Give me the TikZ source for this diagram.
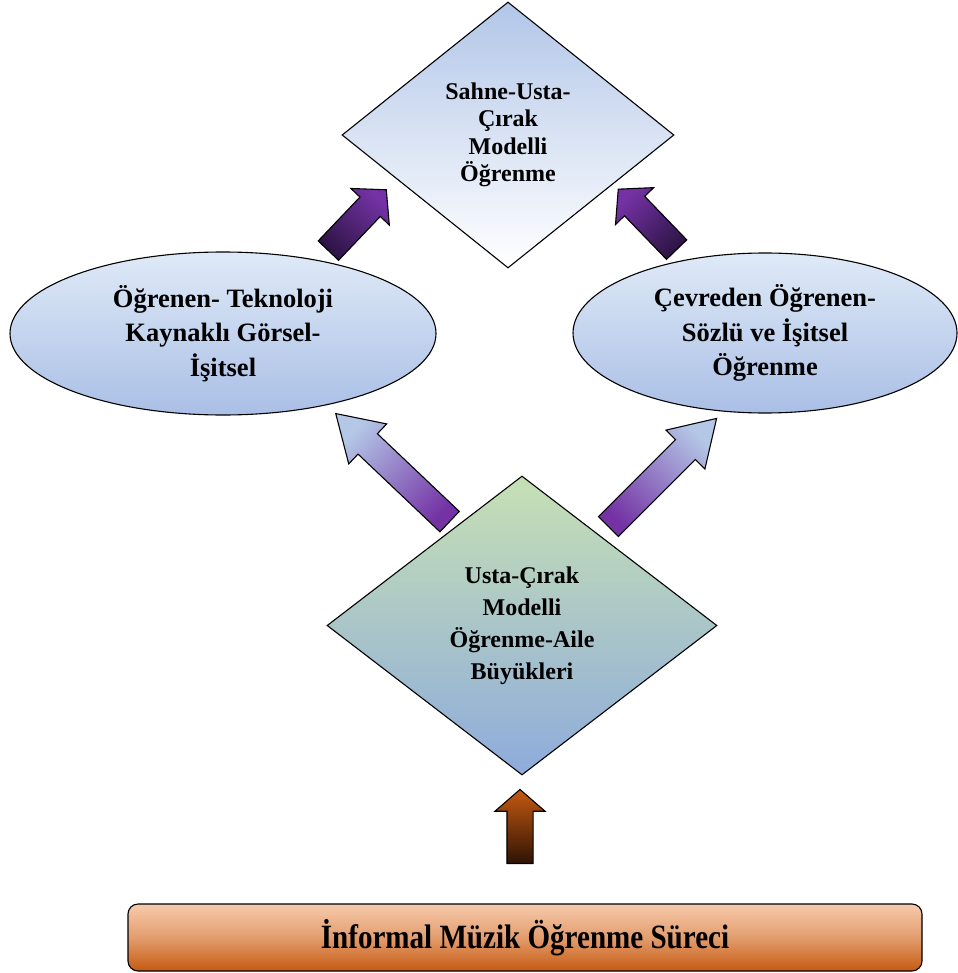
\documentclass[tikz,border=0pt]{standalone}
\usepackage{fontspec}
\setmainfont{Liberation Serif}
\usetikzlibrary{shapes.geometric,shapes.arrows}

\definecolor{skytop}{HTML}{B2C6E8}
\definecolor{cloudtop}{HTML}{DFEAF7}
\definecolor{cloudbot}{HTML}{AABFE6}
\definecolor{mintop}{HTML}{C6E0B4}
\definecolor{bluebot}{HTML}{8EABDC}
\definecolor{plum}{HTML}{7432A4}
\definecolor{plumdark}{HTML}{2C1445}
\definecolor{palesky}{HTML}{B4C7E7}
\definecolor{peach}{HTML}{F7CAAC}
\definecolor{rust}{HTML}{C55A11}
\definecolor{umber}{HTML}{2E1304}

\tikzset{
  shape box/.style={draw,line width=1.1pt,align=center,inner sep=0pt},
  block arrow/.style={single arrow,draw,line width=1.1pt,inner xsep=0pt,
    single arrow head indent=0pt,anchor=tail},
}

\begin{document}
\begin{tikzpicture}[x=1pt,y=-1pt]
  \useasboundingbox (0,0) rectangle (957,973);

  \begin{scope}[every node/.style={shape box}]
    \node[diamond,minimum width=332,minimum height=266,
      top color=skytop,bottom color=white,
      font=\bfseries\fontsize{24}{27.5}\selectfont] (sahne) at (508,135)
      {Sahne-Usta-\\Çırak\\Modelli\\Öğrenme};
    \node[ellipse,minimum width=426,minimum height=163,
      top color=cloudtop,bottom color=cloudbot,
      font=\bfseries\fontsize{26.5}{34.5}\selectfont] (teknoloji) at (223,333.5)
      {Öğrenen- Teknoloji\\Kaynaklı Görsel-\\İşitsel};
    \node[ellipse,minimum width=384,minimum height=160,
      top color=cloudtop,bottom color=cloudbot,
      font=\bfseries\fontsize{26.5}{34.5}\selectfont] (cevre) at (765,333)
      {Çevreden Öğrenen-\\Sözlü ve İşitsel\\Öğrenme};
    \node[diamond,minimum width=390,minimum height=299,
      top color=mintop,bottom color=bluebot,
      font=\bfseries\fontsize{24}{32}\selectfont] (usta) at (522,625.5)
      {Usta-Çırak\\Modelli\\Öğrenme-Aile\\Büyükleri};
    \node[rectangle,rounded corners=10,minimum width=794,minimum height=67,
      top color=peach,bottom color=rust,middle color=peach!60!rust,
      font=\bfseries\fontsize{34}{38}\selectfont] (surec) at (525,937.5)
      {\scalebox{0.855}[1]{İnformal Müzik Öğrenme Süreci}};
  \end{scope}

  % block arrows, placed by their tails (shading turned along each arrow)
  \begin{scope}[every node/.style={block arrow}]
    \node[minimum height=84,inner ysep=13.5,single arrow head extend=12.5,
      single arrow tip angle=97,rotate=46.4,
      top color=plumdark,bottom color=plum,shading angle=136.4] (a1) at (328,251) {};
    \node[minimum height=84,inner ysep=13.5,single arrow head extend=12.5,
      single arrow tip angle=97,rotate=134,
      top color=plumdark,bottom color=plum,shading angle=224] (a2) at (677,250) {};
    \node[minimum height=157,inner ysep=13.5,single arrow head extend=13.5,
      single arrow tip angle=64,rotate=136.5,
      top color=plum,bottom color=palesky,shading angle=226.5] (a3) at (450,522) {};
    \node[minimum height=153,inner ysep=13.5,single arrow head extend=13.5,
      single arrow tip angle=64,rotate=45,
      top color=plum,bottom color=palesky,shading angle=135] (a4) at (608,527) {};
    \node[minimum height=74,inner ysep=12.5,single arrow head extend=12,
      single arrow tip angle=98,rotate=90,
      top color=umber,bottom color=rust,shading angle=180] (a5) at (520,864) {};
  \end{scope}

\end{tikzpicture}
\end{document}
